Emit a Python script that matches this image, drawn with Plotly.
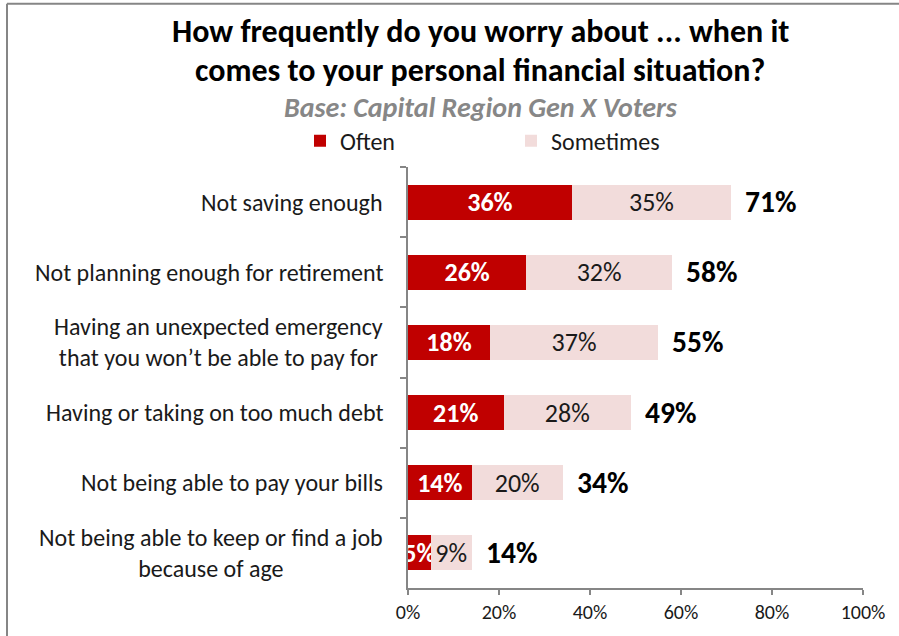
import plotly.graph_objects as go

categories = [
    "Not saving enough",
    "Not planning enough for retirement",
    "Having an unexpected emergency<br>that you won\u2019t be able to pay for",
    "Having or taking on too much debt",
    "Not being able to pay your bills",
    "Not being able to keep or find a job<br>because of age",
]
often = [36, 26, 18, 21, 14, 5]
sometimes = [35, 32, 37, 28, 20, 9]
totals = [71, 58, 55, 49, 34, 14]
x_ticks = [0, 20, 40, 60, 80, 100]
title_lines = [
    "How frequently do you worry about ... when it",
    "comes to your personal financial situation?",
]
subtitle = "Base: Capital Region Gen X Voters"

FONT = "Carlito, Calibri, Lato, sans-serif"
W, H = 899, 636
L, R, T, B = 408, 36, 167, 46
pw, ph = W - L - R, H - T - B

def px_x(p):
    return (p - L) / pw

def px_y(p):
    return (H - B - p) / ph

fig = go.Figure()
fig.add_trace(go.Bar(
    y=categories, x=often, name="Often", orientation="h",
    marker=dict(color="#C00000", line=dict(width=0)),
    text=[f"{v}%" for v in often], texttemplate="%{text}",
    textposition="inside", insidetextanchor="middle",
    textangle=0, constraintext="none", cliponaxis=False,
    textfont=dict(family=FONT, size=26, color="white", weight="bold"),
    hoverinfo="skip",
))
fig.add_trace(go.Bar(
    y=categories, x=sometimes, name="Sometimes", orientation="h",
    marker=dict(color="#F2DCDB", line=dict(width=0)),
    text=[f"{v}%" for v in sometimes], texttemplate="%{text}",
    textposition="inside", insidetextanchor="middle",
    textangle=0, constraintext="none",
    textfont=dict(family=FONT, size=26, color="#1a1a1a"),
    hoverinfo="skip",
))

annotations = []
for c, t in zip(categories, totals):
    annotations.append(dict(
        x=t, y=c, xref="x", yref="y", text=f"<b>{t}%</b>", showarrow=False,
        xanchor="left", xshift=12, font=dict(family=FONT, size=29.5, color="black"),
    ))
    annotations.append(dict(
        x=0, y=c, xref="paper", yref="y", text=c, showarrow=False,
        xanchor="right", xshift=-23, align="center",
        font=dict(family=FONT, size=24, color="#1a1a1a"),
    ))

for line, yc in zip(title_lines, [31, 70]):
    annotations.append(dict(
        x=px_x(480), y=px_y(yc), xref="paper", yref="paper", text=f"<b>{line}</b>",
        showarrow=False, xanchor="center", yanchor="middle",
        font=dict(family=FONT, size=32, color="black"),
    ))
annotations.append(dict(
    x=px_x(481), y=px_y(107), xref="paper", yref="paper", text=f"<i><b>{subtitle}</b></i>",
    showarrow=False, xanchor="center", yanchor="middle",
    font=dict(family=FONT, size=28, color="#878787"),
))

shapes = [
    dict(type="line", xref="paper", yref="paper", x0=px_x(7), x1=px_x(W + 5), y0=px_y(3), y1=px_y(3),
         line=dict(color="#868686", width=2)),
    dict(type="line", xref="paper", yref="paper", x0=px_x(7), x1=px_x(7), y0=px_y(3), y1=px_y(H + 5),
         line=dict(color="#868686", width=2)),
]

fig.update_layout(
    width=W, height=H,
    margin=dict(l=L, r=R, t=T, b=B),
    barmode="stack", bargap=0.5,
    paper_bgcolor="white", plot_bgcolor="white",
    font=dict(family=FONT, color="#1a1a1a"),
    legend=dict(
        orientation="h", x=px_x(300), xanchor="left", y=px_y(141), yanchor="middle",
        font=dict(family=FONT, size=24, color="#1a1a1a"), entrywidth=166, entrywidthmode="pixels",
        traceorder="normal", itemclick=False, itemdoubleclick=False,
    ),
    xaxis=dict(
        range=[0, 100], tickvals=x_ticks, ticktext=[f"{v}%" for v in x_ticks],
        showgrid=False, zeroline=False, showline=True, linecolor="#868686", linewidth=1.5,
        ticks="outside", ticklen=5, tickcolor="#868686", tickwidth=1.5,
        tickfont=dict(family=FONT, size=20, color="#1a1a1a"),
    ),
    yaxis=dict(
        autorange="reversed", showgrid=False, showline=True, linecolor="#868686", linewidth=1.5,
        ticks="outside", ticklen=6, tickcolor="#868686", tickwidth=1.5, tickson="boundaries",
        showticklabels=False,
    ),
    annotations=annotations,
    shapes=shapes,
)

fig.write_html("out.html")
